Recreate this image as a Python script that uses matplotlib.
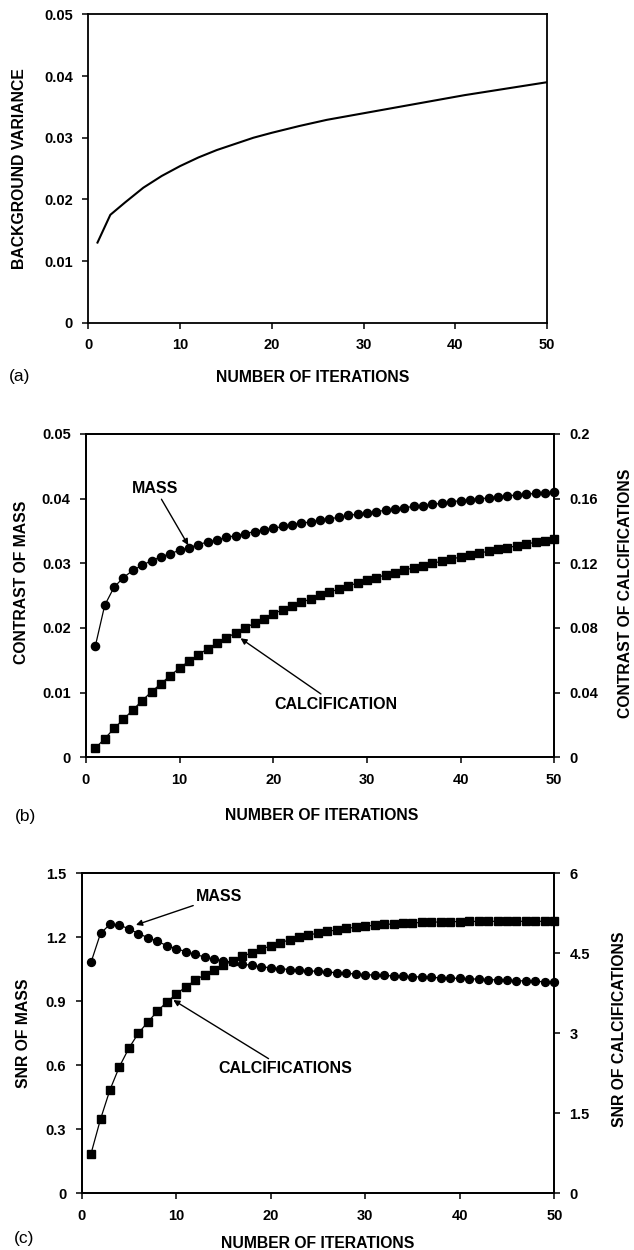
import matplotlib

matplotlib.use("Agg")
import matplotlib.pyplot as plt

# ---- data ----
iterations = list(range(1, 51))

iterations_a = [1, 2.4, 4, 6, 8, 10, 12, 14, 16, 18, 20, 23, 26, 29, 32, 35, 38, 41, 44, 47, 50]
background_variance = [
    0.0130, 0.0175, 0.0195, 0.0219, 0.0238, 0.0254, 0.0268, 0.0280, 0.0290, 0.0300,
    0.0308, 0.0319, 0.0329, 0.0337, 0.0345, 0.0353, 0.0361, 0.0369, 0.0376, 0.0383, 0.0390,
]

contrast_mass = [
    0.0172, 0.0235, 0.0263, 0.0278, 0.0289, 0.0297, 0.0304, 0.0310, 0.0315, 0.0320,
    0.0324, 0.0329, 0.0333, 0.0336, 0.0340, 0.0343, 0.0346, 0.0349, 0.0352, 0.0354,
    0.0357, 0.0360, 0.0362, 0.0364, 0.0367, 0.0369, 0.0371, 0.0374, 0.0376, 0.0378,
    0.0380, 0.0382, 0.0384, 0.0386, 0.0388, 0.0389, 0.0391, 0.0393, 0.0395, 0.0397,
    0.0398, 0.0400, 0.0401, 0.0403, 0.0404, 0.0406, 0.0407, 0.0408, 0.0409, 0.0410,
]
contrast_calc = [
    0.0056, 0.0115, 0.0178, 0.0235, 0.0292, 0.0351, 0.0405, 0.0455, 0.0505, 0.0552,
    0.0595, 0.0634, 0.0672, 0.0706, 0.0739, 0.0770, 0.0800, 0.0830, 0.0858, 0.0888,
    0.0912, 0.0935, 0.0958, 0.0980, 0.1001, 0.1021, 0.1041, 0.1060, 0.1078, 0.1096,
    0.1112, 0.1128, 0.1143, 0.1158, 0.1172, 0.1186, 0.1200, 0.1213, 0.1226, 0.1239,
    0.1251, 0.1263, 0.1275, 0.1286, 0.1297, 0.1308, 0.1319, 0.1330, 0.1341, 0.1352,
]

snr_mass = [
    1.083, 1.218, 1.261, 1.257, 1.240, 1.217, 1.199, 1.182, 1.161, 1.147,
    1.133, 1.120, 1.108, 1.098, 1.090, 1.083, 1.075, 1.068, 1.062, 1.057,
    1.053, 1.049, 1.046, 1.043, 1.040, 1.037, 1.034, 1.031, 1.028, 1.025,
    1.023, 1.021, 1.019, 1.017, 1.015, 1.014, 1.012, 1.010, 1.009, 1.007,
    1.005, 1.004, 1.002, 1.000, 0.999, 0.997, 0.995, 0.993, 0.992, 0.990,
]
snr_calc = [
    0.745, 1.39, 1.94, 2.375, 2.72, 3.00, 3.21, 3.41, 3.585, 3.73,
    3.87, 3.99, 4.10, 4.19, 4.275, 4.36, 4.44, 4.51, 4.575, 4.64,
    4.70, 4.75, 4.80, 4.84, 4.88, 4.91, 4.94, 4.965, 4.99, 5.01,
    5.025, 5.04, 5.05, 5.06, 5.07, 5.078, 5.083, 5.088, 5.092, 5.095,
    5.097, 5.098, 5.099, 5.10, 5.10, 5.10, 5.10, 5.10, 5.10, 5.10,
]

x_ticks = [0, 10, 20, 30, 40, 50]
ticks_a = [0, 0.01, 0.02, 0.03, 0.04, 0.05]
labels_a = ["0", "0.01", "0.02", "0.03", "0.04", "0.05"]
ticks_b_right = [0, 0.04, 0.08, 0.12, 0.16, 0.2]
labels_b_right = ["0", "0.04", "0.08", "0.12", "0.16", "0.2"]
ticks_c_left = [0, 0.3, 0.6, 0.9, 1.2, 1.5]
labels_c_left = ["0", "0.3", "0.6", "0.9", "1.2", "1.5"]
ticks_c_right = [0, 1.5, 3, 4.5, 6]
labels_c_right = ["0", "1.5", "3", "4.5", "6"]

plt.rcParams["font.family"] = ["Liberation Sans", "DejaVu Sans"]
plt.rcParams["font.weight"] = "bold"
plt.rcParams["axes.labelweight"] = "bold"
plt.rcParams["axes.linewidth"] = 1.3

TICK_SIZE = 10.5
LABEL_SIZE = 11.3


def style_axes(ax, right=None):
    ax.set_xlim(0, 50)
    ax.set_xticks(x_ticks)
    ax.tick_params(axis="x", direction="out", length=4, width=1.1, labelsize=TICK_SIZE, pad=7, top=False)
    ax.tick_params(axis="y", direction="out", length=4, width=1.1, labelsize=TICK_SIZE, pad=7, right=False)
    if right is not None:
        right.tick_params(axis="y", direction="out", length=4, width=1.1, labelsize=TICK_SIZE, pad=7)


def arrow(ax, text, xy, xytext, ha="left"):
    ax.annotate(
        text,
        xy=xy,
        xytext=xytext,
        ha=ha,
        va="center",
        fontsize=11.5,
        fontweight="bold",
        arrowprops=dict(arrowstyle="-|>", color="black", lw=1.0, mutation_scale=9, shrinkA=0, shrinkB=0),
    )


fig = plt.figure(figsize=(6.34, 12.5), dpi=100)

# ---- (a) background variance ----
ax_a = fig.add_axes([0.1393, 0.7418, 0.7235, 0.2467])
ax_a.plot(iterations_a, background_variance, color="black", lw=1.5)
ax_a.set_ylim(0, 0.05)
ax_a.set_yticks(ticks_a, labels_a)
style_axes(ax_a)
ax_a.set_ylabel("BACKGROUND VARIANCE", fontsize=LABEL_SIZE)
ax_a.set_xlabel("NUMBER OF ITERATIONS", fontsize=LABEL_SIZE)
ax_a.yaxis.set_label_coords(-0.134, 0.5)
ax_a.xaxis.set_label_coords(0.49, -0.153)

# ---- (b) contrast ----
ax_b = fig.add_axes([0.1356, 0.3942, 0.7386, 0.2586])
ax_b2 = ax_b.twinx()
ax_b.plot(iterations, contrast_mass, color="black", lw=0.9, marker="o", ms=5.9, clip_on=False, zorder=3)
ax_b2.plot(iterations, contrast_calc, color="black", lw=0.9, marker="s", ms=6.4, clip_on=False, zorder=3)
ax_b.set_ylim(0, 0.05)
ax_b.set_yticks(ticks_a, labels_a)
ax_b2.set_ylim(0, 0.2)
ax_b2.set_yticks(ticks_b_right, labels_b_right)
style_axes(ax_b, ax_b2)
ax_b.set_ylabel("CONTRAST OF MASS", fontsize=LABEL_SIZE)
ax_b2.set_ylabel("CONTRAST OF CALCIFICATIONS", fontsize=LABEL_SIZE, rotation=90)
ax_b.set_xlabel("NUMBER OF ITERATIONS", fontsize=LABEL_SIZE)
ax_b.yaxis.set_label_coords(-0.122, 0.54)
ax_b2.yaxis.set_label_coords(1.136, 0.507)
ax_b.xaxis.set_label_coords(0.504, -0.157)
arrow(ax_b, "MASS", xy=(10.92, 0.0328), xytext=(7.42, 0.0415), ha="center")
arrow(ax_b, "CALCIFICATION", xy=(16.5, 0.0184), xytext=(20.1, 0.0082))

# ---- (c) SNR ----
ax_c = fig.add_axes([0.1287, 0.04536, 0.7456, 0.256])
ax_c2 = ax_c.twinx()
ax_c.plot(iterations, snr_mass, color="black", lw=0.9, marker="o", ms=5.7, clip_on=False, zorder=3)
ax_c2.plot(iterations, snr_calc, color="black", lw=0.9, marker="s", ms=6.2, clip_on=False, zorder=3)
ax_c.set_ylim(0, 1.5)
ax_c.set_yticks(ticks_c_left, labels_c_left)
ax_c2.set_ylim(0, 6)
ax_c2.set_yticks(ticks_c_right, labels_c_right)
style_axes(ax_c, ax_c2)
ax_c.set_ylabel("SNR OF MASS", fontsize=LABEL_SIZE)
ax_c2.set_ylabel("SNR OF CALCIFICATIONS", fontsize=LABEL_SIZE, rotation=90)
ax_c.set_xlabel("NUMBER OF ITERATIONS", fontsize=LABEL_SIZE)
ax_c.yaxis.set_label_coords(-0.107, 0.5)
ax_c2.yaxis.set_label_coords(1.122, 0.513)
ax_c.xaxis.set_label_coords(0.5, -0.132)
arrow(ax_c, "MASS", xy=(5.75, 1.258), xytext=(12.1, 1.39))
arrow(ax_c, "CALCIFICATIONS", xy=(9.7, 0.906), xytext=(14.46, 0.583))

# panel letters
for letter, px, py in [("(a)", 20, 376), ("(b)", 26, 816), ("(c)", 24, 1238)]:
    fig.text(px / 634, 1 - py / 1250, letter, fontsize=12.5, fontweight="normal", ha="center", va="center")

fig.savefig("out.png", dpi=100)
